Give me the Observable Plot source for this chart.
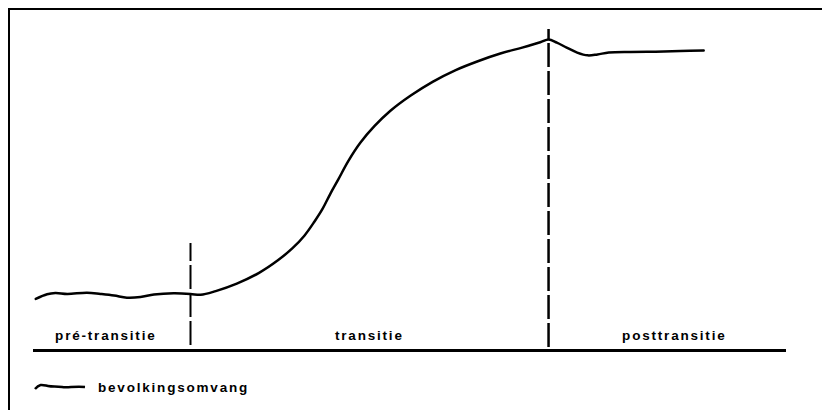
<!DOCTYPE html>
<html>
<head>
<meta charset="utf-8">
<script src="https://cdn.jsdelivr.net/npm/d3@7"></script>
<script src="https://cdn.jsdelivr.net/npm/@observablehq/plot@0.6"></script>
<style>
  html, body { margin: 0; padding: 0; background: #fff; }
  body { width: 822px; height: 410px; position: relative; overflow: hidden; font-family: "Liberation Sans", Arial, sans-serif; }
  #frame { position: absolute; left: 8px; top: 8px; right: -10px; bottom: -10px; border-left: 2.5px solid #000; border-top: 2.5px solid #000; }
  #chart { position: absolute; left: 0; top: 0; }
  #legend { position: relative; height: 40px; }
  #legend svg { position: absolute; left: 34px; top: 12px; }
  #legend span { position: absolute; left: 98px; top: 10px; font-size: 13.5px; font-weight: 700; letter-spacing: 1.8px; color: #000; }
</style>
</head>
<body>
<div id="frame"></div>
<div id="chart"></div>
<script>
// Population size over the demographic transition (time index 0–100, population index 0–100)
const time = [0.3, 1.8, 2.9, 4.5, 7.1, 8.9, 10.7, 12.4, 14.2, 16.0, 18.6, 20.85, 22.2,
  24.2, 27.0, 29.9, 32.5, 34.4, 36.0, 37.3, 38.4, 39.4, 40.5, 41.8, 43.4, 45.3, 47.4,
  50.1, 53.0, 56.0, 59.1, 62.0, 64.9, 67.3, 68.4, 69.5, 70.8, 72.2, 73.6, 74.9, 76.4,
  79.3, 82.6, 85.9, 89.0];
const population = [16.6, 18.1, 18.5, 18.2, 18.6, 18.2, 17.7, 17.0, 17.2, 18.0, 18.4, 18.2, 17.9,
  19.1, 21.5, 24.9, 29.1, 32.9, 37.0, 41.4, 45.6, 50.3, 55.1, 60.9, 66.8, 72.2, 77.1,
  82.0, 86.4, 90.1, 93.1, 95.5, 97.4, 99.1, 100, 99.0, 97.4, 95.8, 94.9, 95.2, 95.8,
  96.0, 96.1, 96.3, 96.5];

const phases = ["pré-transitie", "transitie", "posttransitie"];
const phaseLabelTime = [9.6, 44.6, 85.1];
const phaseLabelLevel = 4.8;

const boundaryTime = [20.85, 68.4];
const boundaryTop = [34.4, 103.2];
const boundaryBottom = [1.6, 1.0];
const boundaryWidth = [2, 2.5];

const axisStart = 0, axisEnd = 100;
const legendLabel = "bevolkingsomvang";

const series = time.map((t, i) => ({t, v: population[i]}));
const labels = phases.map((p, i) => ({p, t: phaseLabelTime[i], v: phaseLabelLevel}));
const bounds = boundaryTime.map((t, i) => ({t, y1: boundaryBottom[i], y2: boundaryTop[i], w: boundaryWidth[i]}));

const chart = Plot.plot({
  width: 822,
  height: 370,
  marginTop: 0, marginRight: 0, marginBottom: 0, marginLeft: 0,
  x: {domain: [0, 100], range: [33, 786], axis: null},
  y: {domain: [0, 100], range: [350, 39], axis: null},
  style: {background: "transparent", overflow: "visible"},
  marks: [
    Plot.ruleY([0], {x1: axisStart, x2: axisEnd, stroke: "#000", strokeWidth: 3}),
    Plot.ruleX(bounds, {x: "t", y1: "y1", y2: "y2", stroke: "#000", strokeWidth: "w", strokeDasharray: "24,4"}),
    Plot.line(series, {x: "t", y: "v", stroke: "#000", strokeWidth: 2.5, curve: "catmull-rom"}),
    Plot.text(labels, {x: "t", y: "v", text: "p", fill: "#000", fontSize: 13.5, fontWeight: 700,
      fontFamily: "Liberation Sans, Arial, sans-serif", textAnchor: "middle"})
  ]
});
chart.querySelectorAll("text").forEach(t => t.style.letterSpacing = "1.8px");
const wrap = document.getElementById("chart");
wrap.appendChild(chart);

const legend = document.createElement("div");
legend.id = "legend";
legend.innerHTML = `<svg width="52" height="10" viewBox="0 0 52 10"><path d="M1,7 C6,1 9,3 14,4 S22,4 28,5 S40,4 51,5" fill="none" stroke="#000" stroke-width="2.5"/></svg><span></span>`;
legend.querySelector("span").textContent = legendLabel;
wrap.appendChild(legend);
</script>
</body>
</html>
